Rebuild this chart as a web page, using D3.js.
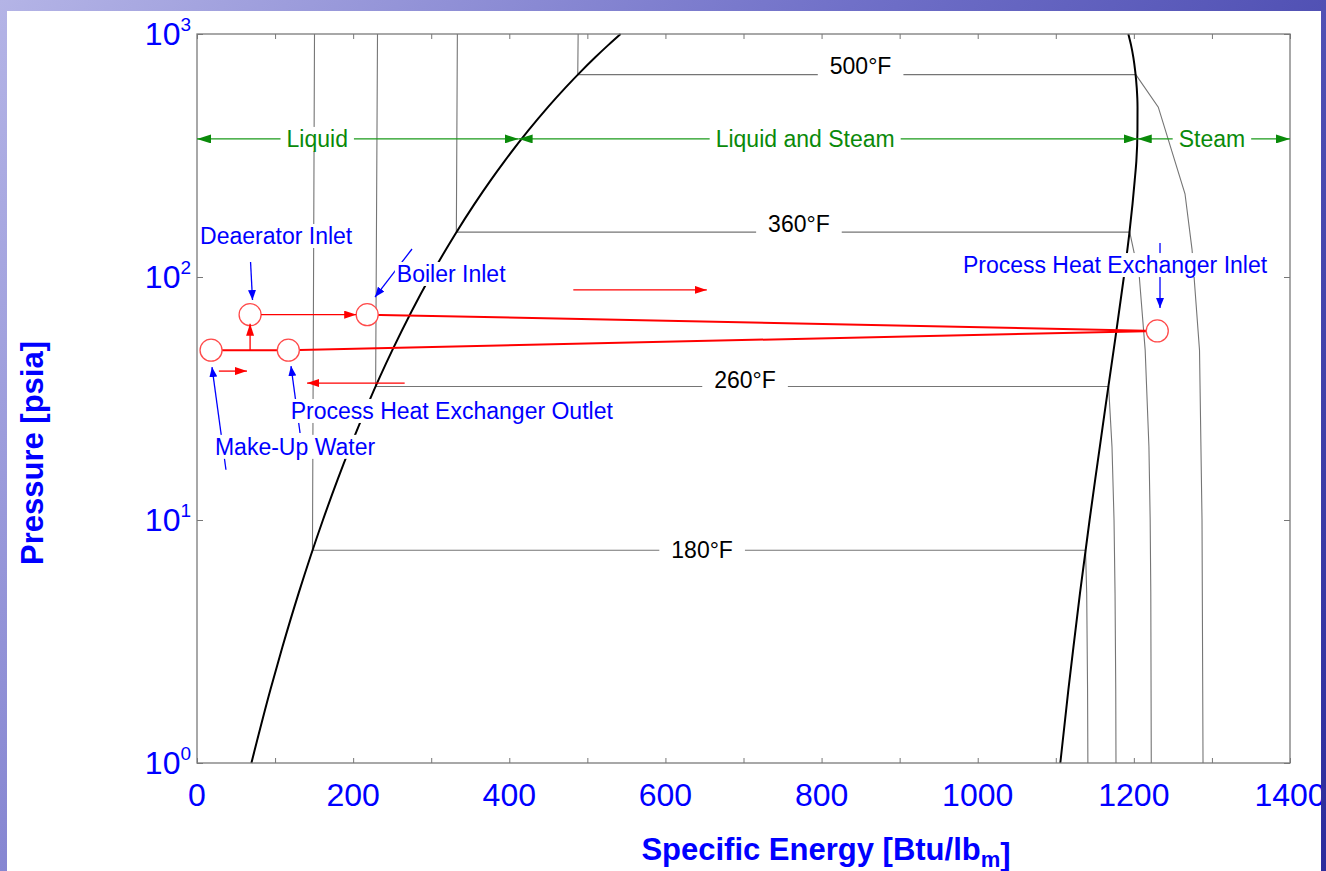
<!DOCTYPE html>
<html>
<head>
<meta charset="utf-8">
<script src="https://cdn.jsdelivr.net/npm/d3@7"></script>
<style>
body { margin: 0; }
text { font-family: "Liberation Sans", Arial, sans-serif; }
</style>
</head>
<body>
<script>
// saturation dome (steam tables, read against the picture)
var satP  = [1, 2, 3, 5, 10, 14.7, 20, 30, 50, 100, 150, 200, 250, 300, 400, 500, 600, 700, 800, 900, 1000];
var satHf = [69.7, 94.0, 109.4, 130.2, 161.3, 180.2, 196.3, 218.9, 250.2, 298.5, 330.7, 355.5, 376.1, 394.0, 424.2, 449.5, 471.7, 491.6, 509.8, 526.7, 542.6];
var satHg = [1105.8, 1116.1, 1122.6, 1131.0, 1143.3, 1150.5, 1156.4, 1164.1, 1174.1, 1187.2, 1194.1, 1198.3, 1201.1, 1203.2, 1204.6, 1204.7, 1203.7, 1201.8, 1199.4, 1196.4, 1192.9];

// isotherms
var isoNames = ["180°F", "260°F", "360°F", "500°F"];
var isoPsat  = [7.51, 35.43, 153.0, 680.8];
var isoHf    = [147.9, 228.8, 332.2, 487.7];
var isoHfTop = [150.5, 231.2, 333.5, 488.2];
var isoLabelH = [647, 702, 771, 850];
var isoLabelP = [7.51, 37.7, 165, 738];
var iso180P = [7.51, 5, 2, 1],        iso180H = [1138.1, 1139.6, 1140.7, 1141.1];
var iso260P = [35.43, 20, 10, 5, 2, 1], iso260H = [1167.7, 1172.0, 1174.6, 1175.9, 1176.8, 1177.1];
var iso360P = [153, 100, 50, 20, 10, 5, 1], iso360H = [1194.7, 1207.0, 1214.5, 1219.3, 1220.9, 1221.7, 1222.3];
var iso500P = [680.8, 500, 220, 130, 50, 10, 1];
var iso500H = [1202.5, 1231.3, 1265.5, 1274.5, 1284.1, 1287.3, 1288.6];
var isoVapP = [iso180P, iso260P, iso360P, iso500P];
var isoVapH = [iso180H, iso260H, iso360H, iso500H];

// region arrows
var regionNames = ["Liquid", "Liquid and Steam", "Steam"];
var regionP = 370;
var regionFrom = [0, 412, 1205];
var regionTo   = [412, 1205, 1400];
var regionLabelH = [154, 779, 1300];

// process states: make-up, HX outlet, deaerator, boiler, HX inlet
var stateH = [18, 117, 68, 218, 1230];
var stateP = [50, 50, 70, 70, 60];

// flow direction arrows [h0, h1, P]
var flowH0 = [482, 28, 266];
var flowH1 = [653, 64, 141];
var flowP  = [88.5, 41, 36.6];

// blue annotations
var noteNames = ["Deaerator Inlet", "Boiler Inlet", "Process Heat Exchanger Outlet", "Make-Up Water", "Process Heat Exchanger Inlet"];
var noteH  = [4, 256, 120, 23, 981];
var noteP  = [147.5, 102.9, 28.1, 20.0, 112];
var noteTailH = [68.6, 275.4, 132, 37.1, 1233.5];
var noteTailP = [115.3, 130.4, 22.8, 16.1, 138];
var noteTipH  = [71.1, 228, 120.4, 19.2, 1233.5];
var noteTipP  = [80.4, 82.7, 43.0, 42.6, 74.6];

var xTicks = d3.range(0, 1401, 100);
var xTickLabels = [0, 200, 400, 600, 800, 1000, 1200, 1400];
var yTickLabels = [1, 10, 100, 1000];

var W = 1326, H = 871;
var svg = d3.select("body").append("svg").attr("width", W).attr("height", H);
var defs = svg.append("defs");

var bg = defs.append("linearGradient").attr("id", "bg")
  .attr("gradientUnits", "userSpaceOnUse")
  .attr("x1", 0).attr("y1", 0).attr("x2", W).attr("y2", H);
bg.append("stop").attr("offset", 0).attr("stop-color", "#b4b4e6");
bg.append("stop").attr("offset", 0.45).attr("stop-color", "#7070c8");
bg.append("stop").attr("offset", 1).attr("stop-color", "#2c2c9c");

function marker(id, color, len, wid) {
  defs.append("marker").attr("id", id)
    .attr("markerUnits", "userSpaceOnUse")
    .attr("markerWidth", len).attr("markerHeight", wid)
    .attr("refX", len).attr("refY", wid / 2)
    .attr("orient", "auto-start-reverse")
    .append("path").attr("d", "M0,0L" + len + "," + wid / 2 + "L0," + wid + "Z").attr("fill", color);
}
marker("gA", "#0a8a0a", 14, 9);
marker("rA", "#ff0000", 12, 8);
marker("bA", "#0000ff", 10, 8);

svg.append("rect").attr("width", W).attr("height", H).attr("fill", "url(#bg)");
svg.append("rect").attr("x", 7).attr("y", 11).attr("width", 1314).attr("height", H).attr("fill", "#fff");

var x = d3.scaleLinear().domain([0, 1400]).range([197, 1290]);
var y = d3.scaleLog().domain([1, 1000]).range([763, 34]);

var line = d3.line().x(function(d) { return x(d[0]); }).y(function(d) { return y(d[1]); });

function boxLabel(px, py, str, color, size, anchor, pad) {
  var t = svg.append("text").attr("x", px).attr("y", py)
    .attr("fill", color).attr("font-size", size)
    .attr("text-anchor", anchor).attr("dominant-baseline", "central").text(str);
  var b = t.node().getBBox();
  svg.insert("rect", function() { return t.node(); })
    .attr("x", b.x - pad).attr("y", b.y + 1).attr("width", b.width + 2 * pad).attr("height", b.height - 2)
    .attr("fill", "#fff");
}

// axes ticks
svg.append("g").attr("transform", "translate(0,763)")
  .call(d3.axisBottom(x).tickValues(xTicks).tickSize(-5).tickFormat(""));
svg.append("g").attr("transform", "translate(0,34)")
  .call(d3.axisTop(x).tickValues(xTicks).tickSize(-5).tickFormat(""));
svg.append("g").attr("transform", "translate(197,0)")
  .call(d3.axisLeft(y).tickValues(yTickLabels).tickSize(-6).tickFormat(""));
svg.append("g").attr("transform", "translate(1290,0)")
  .call(d3.axisRight(y).tickValues(yTickLabels).tickSize(-6).tickFormat(""));
svg.selectAll(".domain").remove();
svg.selectAll(".tick line").attr("stroke", "#777");

// isotherms
isoNames.forEach(function(n, i) {
  var pts = [[isoHfTop[i], 1000], [isoHf[i], isoPsat[i]]];
  isoVapH[i].forEach(function(h, j) { pts.push([h, isoVapP[i][j]]); });
  svg.append("path").attr("d", line(pts)).attr("fill", "none")
    .attr("stroke", "#757575").attr("stroke-width", 1.1);
});

// saturation dome
svg.append("path").attr("d", line.curve(d3.curveMonotoneY)(satP.map(function(p, i) { return [satHf[i], p]; })))
  .attr("fill", "none").attr("stroke", "#000").attr("stroke-width", 2);
svg.append("path").attr("d", line(satP.map(function(p, i) { return [satHg[i], p]; })))
  .attr("fill", "none").attr("stroke", "#000").attr("stroke-width", 2);
line.curve(d3.curveLinear);

// frame
svg.append("rect").attr("x", 197).attr("y", 34).attr("width", 1093).attr("height", 729)
  .attr("fill", "none").attr("stroke", "#7a7a7a").attr("stroke-width", 1.3);

// isotherm labels
isoNames.forEach(function(n, i) {
  boxLabel(x(isoLabelH[i]), y(isoLabelP[i]), n, "#000", 23, "middle", 12);
});

// region arrows
regionNames.forEach(function(n, i) {
  svg.append("line").attr("x1", x(regionFrom[i])).attr("x2", x(regionTo[i]))
    .attr("y1", y(regionP)).attr("y2", y(regionP))
    .attr("stroke", "#1a9a1a").attr("stroke-width", 1.3)
    .attr("marker-start", "url(#gA)").attr("marker-end", "url(#gA)");
  boxLabel(x(regionLabelH[i]), y(regionP), n, "#0a8a0a", 23, "middle", 6);
});

// process lines
function pt(i) { return [x(stateH[i]), y(stateP[i])]; }
[[0, 1], [1, 4], [3, 4]].forEach(function(s) {
  var a = pt(s[0]), b = pt(s[1]);
  svg.append("line").attr("x1", a[0]).attr("y1", a[1]).attr("x2", b[0]).attr("y2", b[1])
    .attr("stroke", "#ff0000").attr("stroke-width", 2);
});
var R = 11;
stateH.forEach(function(h, i) {
  svg.append("circle").attr("cx", x(h)).attr("cy", y(stateP[i])).attr("r", R)
    .attr("fill", "#fff").attr("stroke", "#ff4a4a").attr("stroke-width", 1.3);
});
// deaerator -> boiler
svg.append("line").attr("x1", x(stateH[2]) + R).attr("y1", y(stateP[2]))
  .attr("x2", x(stateH[3]) - R).attr("y2", y(stateP[3]))
  .attr("stroke", "#ff0000").attr("stroke-width", 1.3).attr("marker-end", "url(#rA)");
// feed line -> deaerator
svg.append("line").attr("x1", x(stateH[2])).attr("y1", y(stateP[0]))
  .attr("x2", x(stateH[2])).attr("y2", y(stateP[2]) + R - 2)
  .attr("stroke", "#ff0000").attr("stroke-width", 1.3).attr("marker-end", "url(#rA)");
// flow arrows
flowP.forEach(function(p, i) {
  svg.append("line").attr("x1", x(flowH0[i])).attr("x2", x(flowH1[i]))
    .attr("y1", y(p)).attr("y2", y(p))
    .attr("stroke", "#ff0000").attr("stroke-width", 1.3).attr("marker-end", "url(#rA)");
});

// blue notes
noteNames.forEach(function(n, i) {
  svg.append("line").attr("x1", x(noteTailH[i])).attr("y1", y(noteTailP[i]))
    .attr("x2", x(noteTipH[i])).attr("y2", y(noteTipP[i]))
    .attr("stroke", "#0000ff").attr("stroke-width", 1.3).attr("marker-end", "url(#bA)");
});
noteNames.forEach(function(n, i) {
  boxLabel(x(noteH[i]), y(noteP[i]), n, "#0000ff", 23, "start", 2);
});

// tick labels
svg.selectAll(".xl").data(xTickLabels).enter().append("text")
  .attr("x", function(d) { return x(d); }).attr("y", 806)
  .attr("text-anchor", "middle").attr("font-size", 32).attr("fill", "#0000ff")
  .text(function(d) { return d; });
yTickLabels.forEach(function(v) {
  var t = svg.append("text").attr("x", 191).attr("y", y(v) + 11)
    .attr("text-anchor", "end").attr("font-size", 32).attr("fill", "#0000ff");
  t.append("tspan").text("10");
  t.append("tspan").attr("font-size", 19).attr("dy", -14).text(Math.round(Math.log10(v)));
});

// axis titles
var xt = svg.append("text").attr("x", 826).attr("y", 860).attr("text-anchor", "middle")
  .attr("font-size", 31).attr("font-weight", "bold").attr("fill", "#0000ff");
xt.append("tspan").text("Specific Energy [Btu/lb");
xt.append("tspan").attr("font-size", 22).attr("dy", 7).text("m");
xt.append("tspan").attr("dy", -2).text("]");
svg.append("text").attr("transform", "translate(43,453) rotate(-90)").attr("text-anchor", "middle")
  .attr("font-size", 31).attr("font-weight", "bold").attr("fill", "#0000ff")
  .text("Pressure [psia]");

// slide edge over the right side
svg.append("rect").attr("x", 1321).attr("y", 0).attr("width", 5).attr("height", H).attr("fill", "url(#bg)");
</script>
</body>
</html>
